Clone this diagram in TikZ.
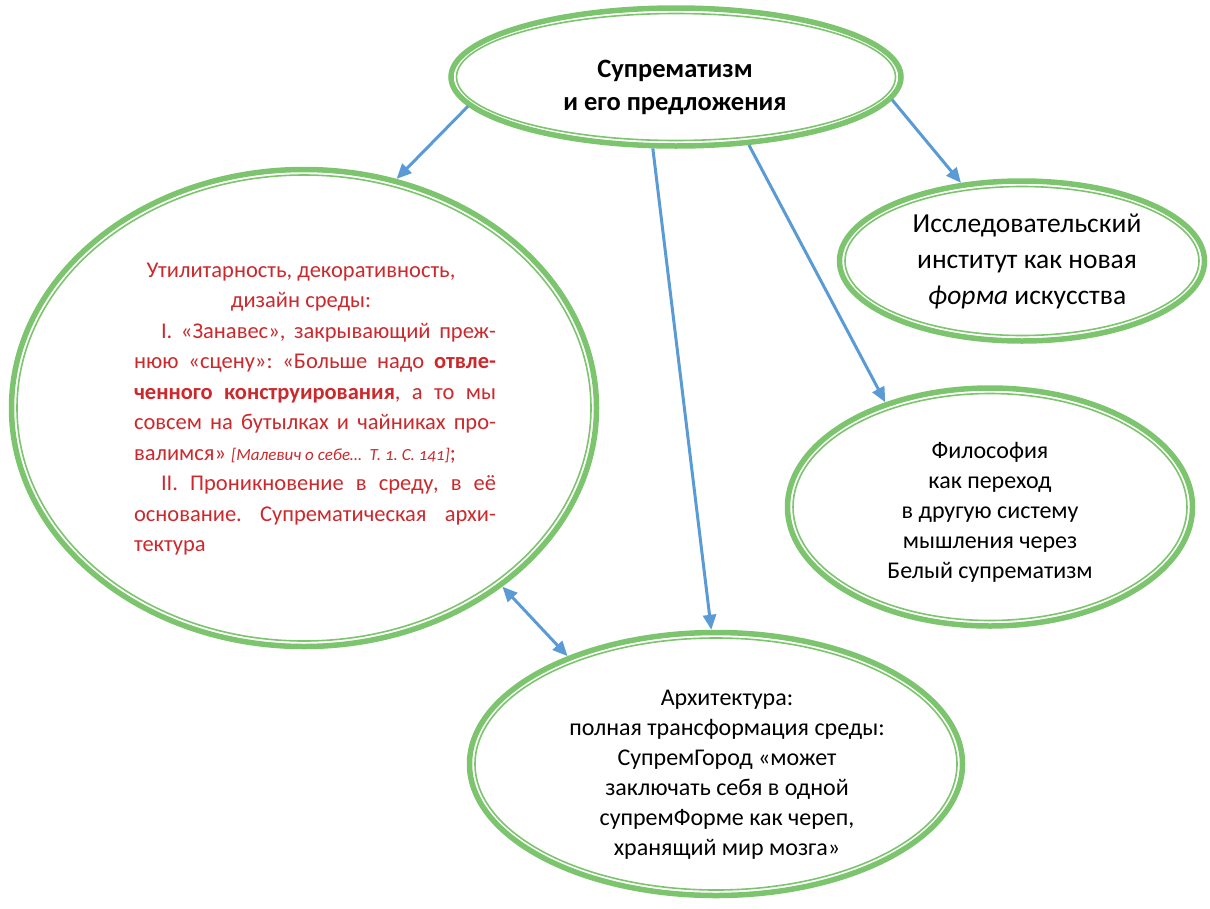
\documentclass[tikz,border=0pt]{standalone}
\usepackage{fontspec}
\setmainfont{Carlito}
\usetikzlibrary{shapes.geometric,arrows.meta,calc}

\definecolor{bubblegreen}{RGB}{124,196,110}
\definecolor{arrowblue}{RGB}{91,155,213}
\definecolor{textred}{RGB}{204,41,45}

\tikzset{
  bubble/.style={ellipse, draw=bubblegreen, line width=5.5pt, inner sep=0pt, fill=white,
    path picture={\draw[bubblegreen, line width=1.6pt]
      let \p1=(path picture bounding box.north east),
          \p2=(path picture bounding box.center)
      in (\p2) ellipse ({\x1-\x2-5.5pt} and {\y1-\y2-5.5pt});}},
  arrowline/.style={draw=arrowblue, line width=3pt, -{Triangle[length=15pt,width=13pt]}},
  blacktext/.style={align=center, text=black, inner sep=0pt, font=\fontsize{24}{30}\selectfont},
  redtext/.style={text=textred, text width=362pt, align=flush left, inner sep=0pt, font=\fontsize{22.5}{30.5}\selectfont},
}

\begin{document}
\frenchspacing
\begin{tikzpicture}[x=1pt, y=-1pt]
  \useasboundingbox (0,0) rectangle (1210,908);

  % ellipses
  \node[bubble, minimum width=450pt, minimum height=138pt] (supr) at (676,77) {};
  \node[bubble, minimum width=585pt, minimum height=477pt] (util) at (304,408) {};
  \node[bubble, minimum width=365pt, minimum height=160pt] (inst) at (1022,261) {};
  \node[bubble, minimum width=405pt, minimum height=238pt] (phil) at (990,507) {};
  \node[bubble, minimum width=493pt, minimum height=263pt] (arch) at (716,764) {};

  % texts
  \node[blacktext, font=\bfseries\fontsize{26.5}{33}\selectfont] (suprtext) at (675,87)
    {Супрематизм\\и его предложения};
  \node[blacktext, font=\fontsize{27.5}{36}\selectfont] (insttext) at (1027,261)
    {Исследовательский\\институт как новая\\\textit{форма} искусства};
  \node[blacktext] (philtext) at (990,512)
    {Философия\\как переход\\в другую систему\\мышления через\\Белый супрематизм};
  \node[blacktext] (archtext) at (727,775)
    {Архитектура:\\полная трансформация среды:\\СупремГород «может\\заключать себя в одной\\супремФорме как череп,\\хранящий мир мозга»};
  \node[redtext] (utiltext) at (315,409) {%
    \makebox[334pt]{Утилитарность, декоративность,}\\
    \makebox[334pt]{дизайн среды:}\\
    \hspace*{27pt}\makebox[335pt][s]{I. «Занавес», закрывающий преж-}\\
    \makebox[362pt][s]{нюю «сцену»: «Больше надо \textbf{отвле-}}\\
    \makebox[362pt][s]{\textbf{ченного конструирования}, а то мы}\\
    \makebox[362pt][s]{совсем на бутылках и чайниках про-}\\
    валимся» {\fontsize{17}{30}\selectfont\itshape\addfontfeature{Numbers=OldStyle}[Малевич о себе…\ \ Т.~1. С.~141]};\\
    \hspace*{27pt}\makebox[335pt][s]{II. Проникновение в среду, в её}\\
    \makebox[362pt][s]{основание. Супрематическая архи-}\\
    тектура};

  % arrows
  \draw[arrowline] (supr.188) -- (util.68);
  \draw[arrowline] (supr.252) -- (arch.92);
  \draw[arrowline] (supr.317) -- (phil.135);
  \draw[arrowline] (supr.354) -- (inst.128);
  \draw[arrowline, {Triangle[length=15pt,width=13pt]}-{Triangle[length=15pt,width=13pt]}] (util.318) -- (arch.144);
\end{tikzpicture}
\end{document}
